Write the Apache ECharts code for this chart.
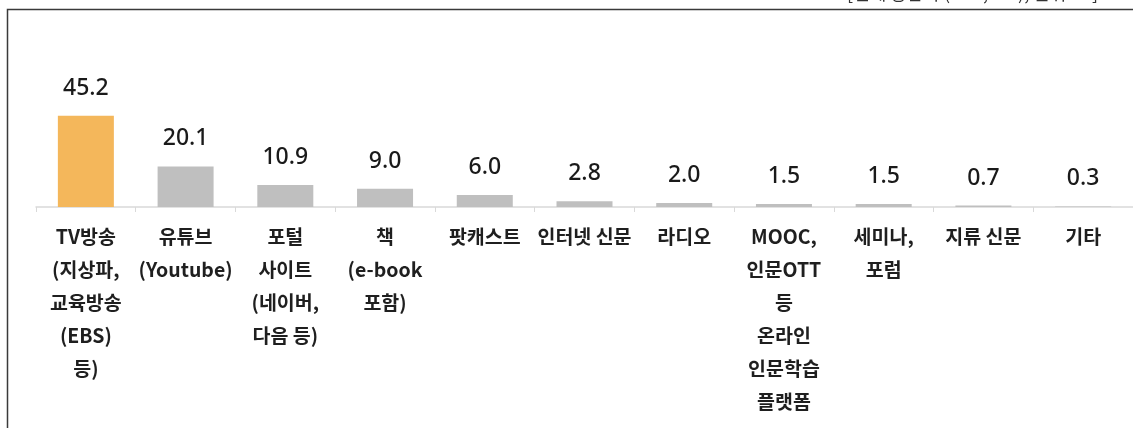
<!DOCTYPE html>
<html>
<head>
<meta charset="utf-8">
<script src="https://cdn.jsdelivr.net/npm/echarts@6/dist/echarts.min.js"></script>
<style>
html,body{margin:0;padding:0;background:#fff;}
#c{width:1133px;height:428px;}
</style>
</head>
<body>
<div id="c"></div>
<script>
const categories = [
  "TV방송\n(지상파,\n교육방송\n(EBS)\n등)",
  "유튜브\n(Youtube)",
  "포털\n사이트\n(네이버,\n다음 등)",
  "책\n(e-book\n포함)",
  "팟캐스트",
  "인터넷 신문",
  "라디오",
  "MOOC,\n인문OTT\n등\n온라인\n인문학습\n플랫폼",
  "세미나,\n포럼",
  "지류 신문",
  "기타"
];
const values = [45.2, 20.1, 10.9, 9.0, 6.0, 2.8, 2.0, 1.5, 1.5, 0.7, 0.3];
const noteText = "[전체 응답자 (N=2,000), 단위: %]";

const chart = echarts.init(document.getElementById('c'), null, {renderer:'canvas'});
chart.setOption({
  animation:false,
  backgroundColor:'#ffffff',
  graphic:[
    {type:'rect', shape:{x:7.5, y:9.5, width:1300, height:600}, style:{fill:'none', stroke:'#3a3a3a', lineWidth:1.5}, silent:true},
    {type:'text', right:35, top:-16, style:{text:noteText, fontSize:18, fill:'#333', fontFamily:'Noto Sans CJK KR'}}
  ],
  grid:{left:36, width:1100, top:106, bottom:221, containLabel:false},
  xAxis:{
    type:'category',
    data:categories,
    boundaryGap:true,
    axisLine:{lineStyle:{color:'#d9d9d9', width:1.5}},
    axisTick:{show:true, length:5, lineStyle:{color:'#d9d9d9'}},
    axisLabel:{
      interval:0, margin:13, color:'#1f1f1f', fontSize:19.5, fontWeight:'bold',
      fontFamily:'Noto Sans CJK KR', lineHeight:33, verticalAlign:'top'
    }
  },
  yAxis:{type:'value', min:0, max:50, show:false, splitLine:{show:false}},
  series:[{
    type:'bar',
    data:values.map((v,i)=>({value:v, itemStyle:{color: i===0 ? '#F4B75B' : '#BFBFBF'}})),
    barWidth:56,
    label:{
      show:true, position:'top', distance:16,
      formatter:p=>p.value.toFixed(1),
      fontSize:23, color:'#1a1a1a', fontFamily:'Noto Sans', fontWeight:500
    }
  }]
});
</script>
</body>
</html>
